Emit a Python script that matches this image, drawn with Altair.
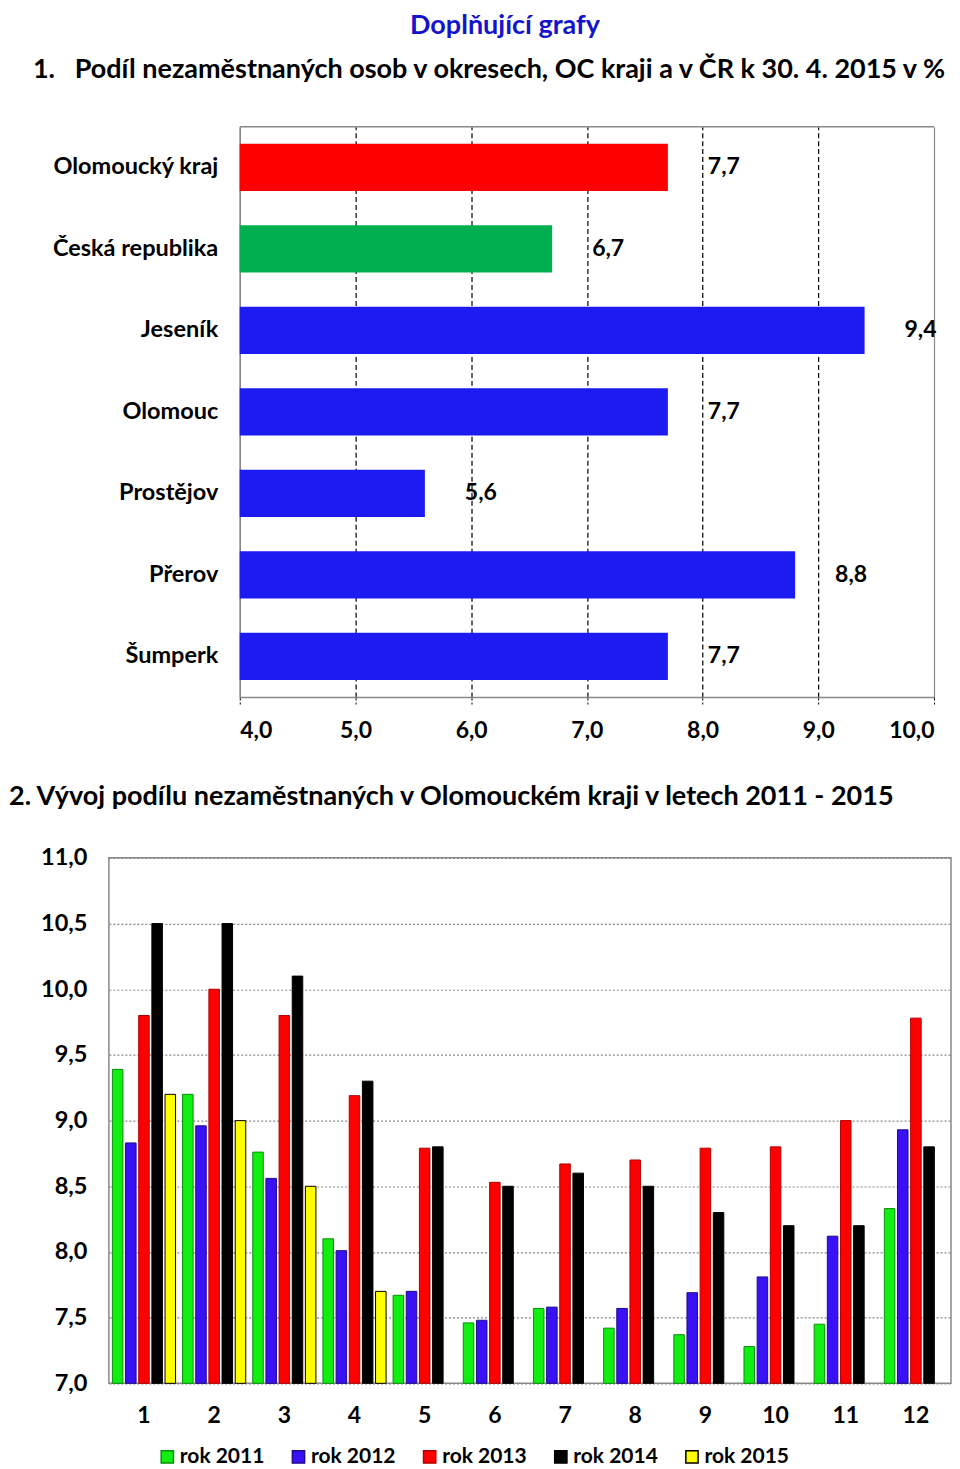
import altair as alt
import pandas as pd

FONT = "Lato"

# ---- Chart 1 data ----
regions = ["Olomoucký kraj", "Česká republika", "Jeseník", "Olomouc", "Prostějov", "Přerov", "Šumperk"]
shares = [7.7, 6.7, 9.4, 7.7, 5.6, 8.8, 7.7]
region_colors = ["#FF0000", "#00B050", "#1C1CF2", "#1C1CF2", "#1C1CF2", "#1C1CF2", "#1C1CF2"]
x_ticks1 = [4, 5, 6, 7, 8, 9, 10]

# ---- Chart 2 data ----
months = [1, 2, 3, 4, 5, 6, 7, 8, 9, 10, 11, 12]
series = ["rok 2011", "rok 2012", "rok 2013", "rok 2014", "rok 2015"]
r2011 = [9.39, 9.20, 8.76, 8.10, 7.67, 7.46, 7.57, 7.42, 7.37, 7.28, 7.45, 8.33]
r2012 = [8.83, 8.96, 8.56, 8.01, 7.70, 7.48, 7.58, 7.57, 7.69, 7.81, 8.12, 8.93]
r2013 = [9.80, 10.00, 9.80, 9.19, 8.79, 8.53, 8.67, 8.70, 8.79, 8.80, 9.00, 9.78]
r2014 = [10.50, 10.50, 10.10, 9.30, 8.80, 8.50, 8.60, 8.50, 8.30, 8.20, 8.20, 8.80]
r2015 = [9.20, 9.00, 8.50, 7.70]
y_ticks2 = [7.0, 7.5, 8.0, 8.5, 9.0, 9.5, 10.0, 10.5, 11.0]
fills = ["#11EE11", "#3A10F5", "#FF0000", "#000000", "#FFFF00"]
strokes = ["#0B8F0B", "#1E0A8A", "#B00000", "#000000", "#000000"]

fmt = "replace(format(datum.value, '.1f'), '.', ',')"

# ---------------- Chart 1 ----------------
df1 = pd.DataFrame({"region": regions, "share": shares, "color": region_colors})
df1["label"] = [f"{v:.1f}".replace(".", ",") for v in shares]

W1, H1 = 826, 571
xscale1 = alt.Scale(domain=[4, 10], range=[131, W1], nice=False, zero=False)
yenc1 = alt.Y(
    "region:N", sort=regions,
    scale=alt.Scale(paddingInner=0.42, paddingOuter=0.21),
    axis=alt.Axis(title=None, offset=-131, labelFont=FONT, labelFontSize=23.5,
                  labelFontWeight="bold", labelColor="black", labelPadding=22,
                  ticks=False, domainColor="#888888", domainWidth=1.5, grid=False),
)
base1 = alt.Chart(df1)
bars1 = base1.mark_bar().encode(
    y=yenc1,
    x=alt.X("share:Q", scale=xscale1,
            axis=alt.Axis(title=None, values=x_ticks1, labelExpr=fmt, labelFont=FONT,
                          labelFontSize=23, labelFontWeight="bold", labelColor="black",
                          labelPadding=15, grid=True,
                          gridColor={"condition": {"test": "datum.value === 10 || datum.value === 4", "value": "#888888"}, "value": "black"},
                          gridDash={"condition": {"test": "datum.value === 10 || datum.value === 4", "value": []}, "value": [5, 3]},
                          gridWidth=1.2,
                          ticks=True, tickColor="black", tickDash=[3, 2], tickSize=7,
                          domainColor="#888888", domainWidth=1.5)),
    x2=alt.datum(4),
    color=alt.Color("color:N", scale=None),
)
labels1 = base1.mark_text(align="left", baseline="middle", dx=40, font=FONT, fontSize=23,
                          fontWeight="bold", color="black").encode(
    y=alt.Y("region:N", sort=regions),
    x=alt.X("share:Q", scale=xscale1),
    text="label:N",
)
top_border = alt.Chart(pd.DataFrame({"k": [0]})).mark_rule(color="#888888", strokeWidth=1.5).encode(
    x=alt.datum(4), x2=alt.datum(10), y=alt.value(0)
)
chart1 = alt.layer(bars1, labels1, top_border).properties(
    width=W1, height=H1,
    view=alt.ViewBackground(stroke=None),
    title=alt.Title("1.\u00a0\u00a0\u00a0Podíl nezaměstnaných osob v okresech, OC kraji a v ČR k 30. 4. 2015 v %",
                    anchor="start", frame="group", dx=-76, font=FONT, fontSize=27,
                    fontWeight="bold", color="black", offset=42),
)

# ---------------- Chart 2 ----------------
rows = []
vals = [r2011, r2012, r2013, r2014, r2015]
for s, arr in zip(series, vals):
    for m, v in zip(months, arr):
        rows.append({"month": m, "series": s, "value": v})
df2 = pd.DataFrame(rows)

W2, H2 = 843, 526
leg = alt.Legend(title=None, orient="none", legendX=48, legendY=589, direction="horizontal",
                 columns=5, symbolType="square", symbolSize=150, symbolStrokeWidth=1.5,
                 labelFont=FONT, labelFontSize=21, labelFontWeight="bold", labelColor="black",
                 columnPadding=23.3, labelOffset=2, padding=0)
bars2 = alt.Chart(df2).mark_bar(strokeWidth=1).encode(
    x=alt.X("month:O", scale=alt.Scale(paddingInner=0.1, paddingOuter=0.05),
            axis=alt.Axis(title=None, labelAngle=0, ticks=False, domain=False, labelFont=FONT,
                          labelFontSize=23, labelFontWeight="bold", labelColor="black",
                          labelPadding=21)),
    xOffset=alt.XOffset("series:N", sort=series, scale=alt.Scale(domain=series, paddingInner=0.2, paddingOuter=0)),
    y=alt.Y("value:Q", scale=alt.Scale(domain=[7, 11], zero=False, nice=False),
            axis=alt.Axis(title=None, values=y_ticks2, labelExpr=fmt, ticks=False, domain=False,
                          gridColor="#888888", gridDash=[2, 2], gridWidth=1.2,
                          labelFont=FONT, labelFontSize=23.5, labelFontWeight="bold",
                          labelColor="black", labelPadding=22)),
    y2=alt.datum(7),
    fill=alt.Fill("series:N", sort=series, scale=alt.Scale(domain=series, range=fills), legend=leg),
    stroke=alt.Stroke("series:N", sort=series, scale=alt.Scale(domain=series, range=strokes), legend=leg),
)
chart2 = bars2.properties(
    width=W2, height=H2,
    view=alt.ViewBackground(stroke="#888888", strokeWidth=1.5),
    title=alt.Title("2. Vývoj podílu nezaměstnaných v Olomouckém kraji v letech 2011 - 2015",
                    anchor="start", frame="group", dx=-100, font=FONT, fontSize=27,
                    fontWeight="bold", color="black", offset=35),
)

chart = alt.vconcat(chart1, chart2, spacing=40).resolve_legend(
    fill="independent", stroke="independent"
).properties(
    padding={"top": 3, "left": 0, "right": 0, "bottom": 0},
    title=alt.Title("Doplňující grafy", anchor="middle", dx=25, font=FONT, fontSize=27,
                    fontWeight="bold", color="#1414CC", offset=16),
)

chart.save("out.html", embed_options={"renderer": "svg", "actions": False})
